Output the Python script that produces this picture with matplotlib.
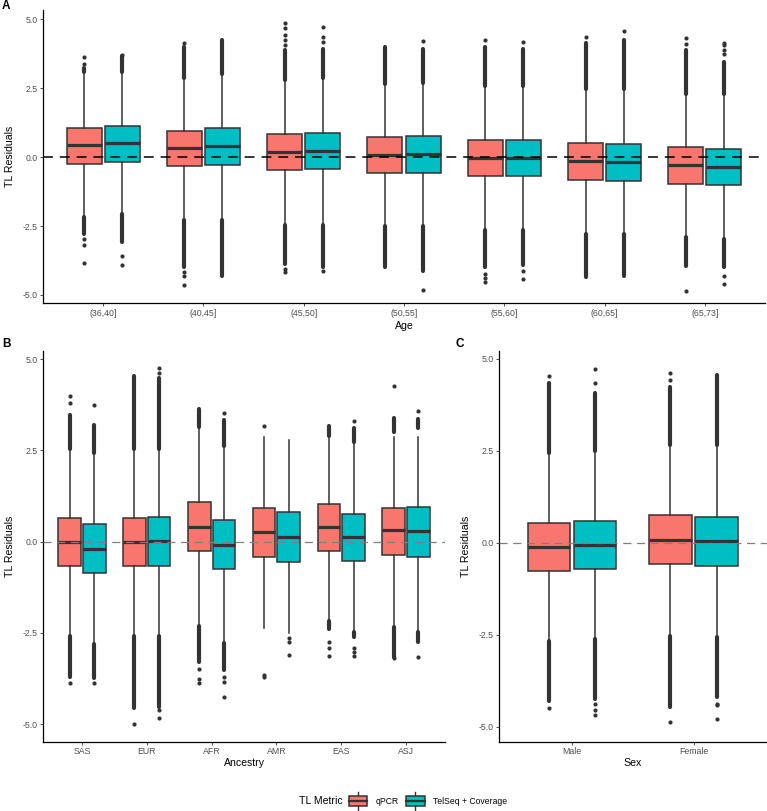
import numpy as np
import matplotlib.pyplot as plt
from matplotlib.patches import Patch, Rectangle
from matplotlib.lines import Line2D
from matplotlib.legend_handler import HandlerBase

plt.rcParams['font.family'] = ['Liberation Sans', 'DejaVu Sans']

# ---------------------------------------------------------------------------
# Data (TL residuals)
# box stats per group: (q1, median, q3, whisker low, whisker high)
# runs: extent of the dense columns of outliers (start, end); None = no run
# pts: single outliers
age_groups = ['(36,40]', '(40,45]', '(45,50]', '(50,55]', '(55,60]', '(60,65]', '(65,73]']
ancestry_groups = ['SAS', 'EUR', 'AFR', 'AMR', 'EAS', 'ASJ']
sex_groups = ['Male', 'Female']
metrics = ['qPCR', 'TelSeq + Coverage']

age_qpcr_box = [(-0.25, 0.42, 1.06, -2.12, 3.03), (-0.33, 0.34, 0.95, -2.24, 2.85),
                (-0.47, 0.19, 0.83, -2.42, 2.78), (-0.58, 0.08, 0.73, -2.48, 2.60),
                (-0.69, -0.02, 0.63, -2.60, 2.54), (-0.84, -0.15, 0.50, -2.76, 2.45),
                (-0.97, -0.30, 0.35, -2.88, 2.26)]
age_qpcr_hi = [(3.09, 3.21), (2.88, 4.00), (2.80, 3.87), (2.63, 4.00), (2.57, 4.00), (2.48, 4.12), (2.30, 3.87)]
age_qpcr_lo = [(-2.18, -2.78), (-2.27, -4.00), (-2.45, -3.87), (-2.50, -4.00), (-2.63, -4.00), (-2.79, -4.33), (-2.91, -3.96)]
age_qpcr_pts = [[3.39, 3.63, -2.97, -3.20, -3.84], [4.12, -4.18, -4.30, -4.62],
                [4.06, 4.26, 4.42, 4.66, 4.87, -4.06, -4.18], [],
                [4.24, -4.24, -4.38, -4.54], [4.36], [4.08, 4.30, -4.84]]

age_telseq_box = [(-0.17, 0.50, 1.13, -2.00, 3.05), (-0.28, 0.40, 1.04, -2.24, 2.97),
                  (-0.45, 0.23, 0.87, -2.42, 2.85), (-0.58, 0.10, 0.75, -2.48, 2.66),
                  (-0.69, -0.04, 0.63, -2.60, 2.54), (-0.86, -0.18, 0.46, -2.76, 2.42),
                  (-1.03, -0.36, 0.29, -2.93, 2.24)]
age_telseq_hi = [(3.10, 3.65), (3.00, 4.24), (2.88, 3.93), (2.69, 3.93), (2.57, 3.93), (2.45, 4.24), (2.27, 3.45)]
age_telseq_lo = [(-2.05, -3.09), (-2.27, -4.30), (-2.45, -4.00), (-2.50, -4.12), (-2.63, -3.93), (-2.79, -4.30), (-2.96, -4.00)]
age_telseq_pts = [[3.69, -3.60, -3.90], [], [4.18, 4.36, 4.72, -4.14], [4.19, -4.82],
                  [4.16, -4.12, -4.42], [4.58], [3.75, 3.87, 4.06, 4.14, -4.31, -4.60]]

anc_qpcr_box = [(-0.68, -0.01, 0.64, -2.55, 2.52), (-0.67, -0.01, 0.64, -2.55, 2.52),
                (-0.27, 0.41, 1.09, -2.27, 3.12), (-0.43, 0.26, 0.93, -2.36, 2.87),
                (-0.26, 0.41, 1.02, -2.14, 2.87), (-0.36, 0.32, 0.93, -2.30, 2.87)]
anc_qpcr_hi = [(2.55, 3.47), (2.55, 4.55), (3.15, 3.62), None, (2.90, 3.17), (3.00, 3.40)]
anc_qpcr_lo = [(-2.58, -3.70), (-2.58, -4.56), (-2.30, -3.29), None, (-2.17, -2.40), (-2.33, -3.15)]
anc_qpcr_pts = [[3.79, 3.99, -3.86], [-4.99], [-3.50, -3.75, -3.88], [3.18, -3.65, -3.72],
                [-2.74, -2.90, -3.12], [4.27, -3.20]]

anc_telseq_box = [(-0.87, -0.21, 0.47, -2.78, 2.39), (-0.66, 0.02, 0.67, -2.55, 2.52),
                  (-0.76, -0.09, 0.59, -2.75, 2.60), (-0.55, 0.14, 0.82, -2.49, 2.78),
                  (-0.52, 0.14, 0.76, -2.45, 2.68), (-0.43, 0.30, 0.94, -2.45, 2.87)]
anc_telseq_hi = [(2.42, 3.19), (2.55, 4.47), (2.62, 3.33), None, (2.72, 3.10), (3.10, 3.35)]
anc_telseq_lo = [(-2.81, -3.74), (-2.58, -4.52), (-2.78, -3.51), None, (-2.48, -2.60), (-2.48, -2.74)]
anc_telseq_pts = [[3.74, -3.88], [4.62, 4.76, -4.62, -4.84], [3.51, -3.70, -3.85, -4.26],
                  [-2.63, -2.74, -3.10], [3.31, -2.90, -3.01, -3.12], [3.59, -3.15]]

sex_qpcr_box = [(-0.76, -0.11, 0.53, -2.63, 2.43), (-0.58, 0.07, 0.75, -2.50, 2.63)]
sex_qpcr_hi = [(2.45, 4.35), (2.66, 4.24)]
sex_qpcr_lo = [(-2.66, -4.29), (-2.53, -4.46)]
sex_qpcr_pts = [[4.53, -4.49], [4.41, 4.62, -4.88]]

sex_telseq_box = [(-0.71, -0.05, 0.59, -2.58, 2.46), (-0.64, 0.04, 0.70, -2.54, 2.63)]
sex_telseq_hi = [(2.49, 4.07), (2.66, 4.56)]
sex_telseq_lo = [(-2.61, -4.24), (-2.57, -4.20)]
sex_telseq_pts = [[4.35, 4.72, -4.39, -4.55, -4.69], [-4.38, -4.42, -4.79]]

yticks = [-5.0, -2.5, 0.0, 2.5, 5.0]
ytick_labels = ['-5.0', '-2.5', '0.0', '2.5', '5.0']

# ---------------------------------------------------------------------------
# Style
colors = ['#F8766D', '#00BFC4']
dark = '#333333'
tick_col = '#4D4D4D'
fs_tick = 6.3
fs_lab = 7.6
fs_leg = 6.2
W, H = 767, 811
dodge = 0.19
bw = 0.35
ms = 3.0


def draw_metric(ax, boxes, runs_hi, runs_lo, pts, offset, color):
    pos = np.arange(1, len(boxes) + 1) + offset
    stats = [dict(q1=b[0], med=b[1], q3=b[2], whislo=b[3], whishi=b[4], fliers=p)
             for b, p in zip(boxes, pts)]
    ax.bxp(stats, positions=pos, widths=bw, patch_artist=True, showcaps=False,
           manage_ticks=False,
           boxprops=dict(facecolor=color, edgecolor=dark, linewidth=1.1),
           whiskerprops=dict(color=dark, linewidth=1.1),
           medianprops=dict(color=dark, linewidth=2.3, solid_capstyle='butt'),
           flierprops=dict(marker='o', markersize=ms, markerfacecolor=dark,
                           markeredgecolor='none'))
    for x, r in zip(pos, runs_hi):
        if r is not None:
            ax.vlines(x, r[0], r[1], color=dark, lw=ms, capstyle='round')
    for x, r in zip(pos, runs_lo):
        if r is not None:
            ax.vlines(x, r[0], r[1], color=dark, lw=ms, capstyle='round')


def style_axes(ax, cats, xlabel, ylim, ylab_x, xlab_y, zero_col, zero_lw):
    ax.set_xlim(0.4, len(cats) + 0.6)
    ax.set_ylim(*ylim)
    ax.set_xticks(np.arange(1, len(cats) + 1))
    ax.set_xticklabels(cats)
    ax.set_yticks(yticks)
    ax.set_yticklabels(ytick_labels)
    ax.tick_params(labelsize=fs_tick, labelcolor=tick_col, color=dark,
                   length=2.5, width=0.6, pad=1.5)
    for s in ['top', 'right']:
        ax.spines[s].set_visible(False)
    for s in ['left', 'bottom']:
        ax.spines[s].set_linewidth(0.9)
        ax.spines[s].set_color('black')
    ax.set_xlabel(xlabel, fontsize=fs_lab)
    ax.set_ylabel('TL Residuals', fontsize=fs_lab)
    ax.xaxis.set_label_coords(0.5, xlab_y)
    ax.yaxis.set_label_coords(ylab_x, 0.5)
    ax.axhline(0, color=zero_col, lw=zero_lw, ls=(0, (6.5, 4.5)), zorder=5)


class BoxKey(HandlerBase):
    def create_artists(self, legend, orig_handle, xdescent, ydescent, width, height,
                       fontsize, trans):
        x0, y0 = -xdescent, -ydescent
        fc = orig_handle.get_facecolor()
        wt = Line2D([x0 + width / 2] * 2, [y0 + 0.89 * height, y0 + 1.25 * height],
                    color=dark, lw=1.0, transform=trans)
        wb = Line2D([x0 + width / 2] * 2, [y0 - 0.25 * height, y0 + 0.11 * height],
                    color=dark, lw=1.0, transform=trans)
        rect = Rectangle((x0 + 0.04 * width, y0 + 0.11 * height), 0.92 * width, 0.78 * height,
                         facecolor=fc, edgecolor=dark, lw=1.1, transform=trans)
        med = Line2D([x0 + 0.04 * width, x0 + 0.96 * width], [y0 + 0.5 * height] * 2,
                     color=dark, lw=1.6, transform=trans)
        return [wt, wb, rect, med]


fig = plt.figure(figsize=(W / 100, H / 100), dpi=100)

# Panel A
axA = fig.add_axes([43 / W, 1 - 303 / H, 722 / W, 293 / H])
draw_metric(axA, age_qpcr_box, age_qpcr_hi, age_qpcr_lo, age_qpcr_pts, -dodge, colors[0])
draw_metric(axA, age_telseq_box, age_telseq_hi, age_telseq_lo, age_telseq_pts, dodge, colors[1])
style_axes(axA, age_groups, 'Age', (-5.29, 5.33), -0.039, -0.06, 'black', 1.1)

# Panel B
axB = fig.add_axes([43 / W, 1 - 741.7 / H, 402 / W, 391 / H])
draw_metric(axB, anc_qpcr_box, anc_qpcr_hi, anc_qpcr_lo, anc_qpcr_pts, -dodge, colors[0])
draw_metric(axB, anc_telseq_box, anc_telseq_hi, anc_telseq_lo, anc_telseq_pts, dodge, colors[1])
style_axes(axB, ancestry_groups, 'Ancestry', (-5.48, 5.23), -0.070, -0.042, '#7F7F7F', 0.9)

# Panel C
axC = fig.add_axes([499 / W, 1 - 741.7 / H, 267.5 / W, 391 / H])
draw_metric(axC, sex_qpcr_box, sex_qpcr_hi, sex_qpcr_lo, sex_qpcr_pts, -dodge, colors[0])
draw_metric(axC, sex_telseq_box, sex_telseq_hi, sex_telseq_lo, sex_telseq_pts, dodge, colors[1])
style_axes(axC, sex_groups, 'Sex', (-5.41, 5.22), -0.105, -0.042, '#7F7F7F', 0.9)

# panel tags
for tag, x, y in [('A', 6, 6), ('B', 6, 344), ('C', 460, 344)]:
    fig.text(x / W, 1 - y / H, tag, fontsize=8.5, fontweight='bold', ha='center', va='center')

# legend
fig.text(343 / W, 1 - 801 / H, 'TL Metric', fontsize=fs_lab, ha='right', va='center')
handles = [Patch(facecolor=c) for c in colors]
fig.legend(handles, metrics, handler_map={Patch: BoxKey()}, loc='center left',
           bbox_to_anchor=(348 / W, 1 - 801 / H), ncol=2, frameon=False, fontsize=fs_leg,
           handlelength=2.3, handleheight=1.7, handletextpad=0.9, columnspacing=0.8,
           borderpad=0, borderaxespad=0)

fig.savefig('out.png', dpi=100)
